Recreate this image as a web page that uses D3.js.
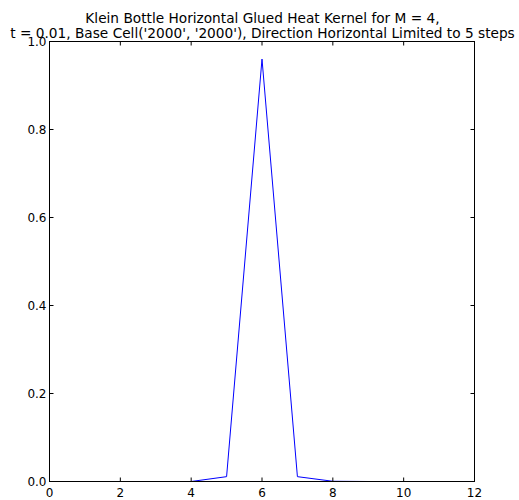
<!DOCTYPE html>
<html><head><meta charset="utf-8">
<script src="https://cdn.jsdelivr.net/npm/d3@7"></script>
<style>body{margin:0;background:#fff}svg{display:block}text{font-family:"DejaVu Sans",sans-serif}</style>
</head><body><svg id="c" width="519" height="500"></svg>
<script>
const xs = [0,1,2,3,4,5,6,7,8,9,10,11,12];
const values = [0,0,0,0,0,0.011,0.96,0.011,0.0005,0,0,0,0];
const xTicks = [0,2,4,6,8,10,12];
const yTicks = [0.0,0.2,0.4,0.6,0.8,1.0];
const titleLines = ["Klein Bottle Horizontal Glued Heat Kernel for M = 4,","t = 0.01, Base Cell('2000', '2000'), Direction Horizontal Limited to 5 steps"];

const svg = d3.select("#c");
const L=49.5,R=474.5,T=41.5,B=481.5;
const x = d3.scaleLinear().domain([0,12]).range([L,R]);
const y = d3.scaleLinear().domain([0,1]).range([B,T]);

svg.append("path").datum(values)
  .attr("fill","none").attr("stroke","#0000ff").attr("stroke-width",1)
  .attr("d", d3.line().x((d,i)=>x(xs[i])).y(d=>y(d)));

svg.append("rect").attr("x",L).attr("y",T).attr("width",R-L).attr("height",B-T)
  .attr("fill","none").attr("stroke","#000").attr("stroke-width",1);

const tl=4;
const gx = svg.append("g");
xTicks.forEach(t=>{
  gx.append("line").attr("x1",x(t)).attr("x2",x(t)).attr("y1",B).attr("y2",B-tl).attr("stroke","#000");
  gx.append("line").attr("x1",x(t)).attr("x2",x(t)).attr("y1",T).attr("y2",T+tl).attr("stroke","#000");
  gx.append("text").attr("x",x(t)).attr("y",B+15).attr("text-anchor","middle").attr("font-size",12).text(d3.format("d")(t));
});
yTicks.forEach(t=>{
  gx.append("line").attr("y1",y(t)).attr("y2",y(t)).attr("x1",L).attr("x2",L+tl).attr("stroke","#000");
  gx.append("line").attr("y1",y(t)).attr("y2",y(t)).attr("x1",R).attr("x2",R-tl).attr("stroke","#000");
  gx.append("text").attr("x",L-3).attr("y",y(t)+4).attr("text-anchor","end").attr("font-size",12).text(d3.format(".1f")(t));
});
svg.append("text").attr("x",(L+R)/2+0.5).attr("y",23).attr("text-anchor","middle").attr("font-size",13.7).text(titleLines[0]);
svg.append("text").attr("x",(L+R)/2+0.5).attr("y",38).attr("text-anchor","middle").attr("font-size",13.7).text(titleLines[1]);
</script></body></html>
